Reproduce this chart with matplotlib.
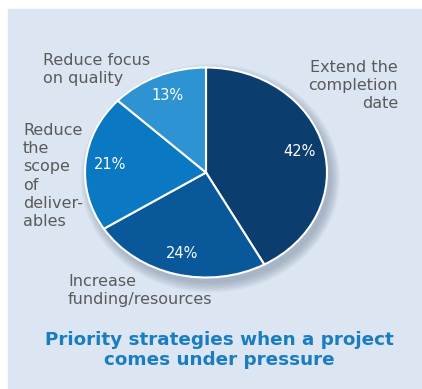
import matplotlib
matplotlib.use("Agg")
import matplotlib.pyplot as plt
import numpy as np
from matplotlib.patches import Ellipse, Rectangle

# Data
labels = ["Extend the\ncompletion\ndate", "Increase\nfunding/resources",
          "Reduce\nthe\nscope\nof\ndeliver-\nables", "Reduce focus\non quality"]
shares = [42, 24, 21, 13]
colors = ["#0b3d6e", "#08589a", "#0a78c3", "#2d93d3"]
title = "Priority strategies when a project\ncomes under pressure"

W, H = 422, 389
fig = plt.figure(figsize=(W / 100, H / 100), dpi=100)
fig.patch.set_facecolor("white")

# light blue panel
fig.patches.append(Rectangle((8 / W, 0), 1 - 8 / W, (H - 9) / H,
                             transform=fig.transFigure, color="#dce6f2", zorder=-5))

# pie axes (slightly wider than tall)
cx, cy, rx, ry = 206, 172.5, 121, 105
ax = fig.add_axes([(cx - rx) / W, (H - cy - ry) / H, 2 * rx / W, 2 * ry / H])
ax.set_facecolor("none")

# soft shadow
for i in range(8):
    ax.add_patch(Ellipse((0.035, -0.055), 2 + 0.02 * i, 2 + 0.025 * i,
                         color="#6f7f96", alpha=0.07, lw=0, zorder=0, clip_on=False))

wedges = ax.pie(shares, colors=colors, startangle=90, counterclock=False,
                wedgeprops=dict(edgecolor="white", linewidth=1.5))[0]
for w in wedges:
    w.set_zorder(2)

# percentage labels
ang = 90.0
for v in shares:
    mid = np.deg2rad(ang - v * 3.6 / 2)
    ax.text(0.8 * np.cos(mid), 0.8 * np.sin(mid), f"{v}%", color="white",
            fontsize=10.5, ha="center", va="center", zorder=3)
    ang -= v * 3.6

ax.set_aspect("auto")
ax.set_xlim(-1, 1)
ax.set_ylim(-1, 1)
ax.axis("off")

gray = "#5a5a5a"
fs = 11.5
lsp = 1.27
fig.text(398 / W, 1 - 60 / H, labels[0], ha="right", va="top", color=gray,
         fontsize=fs, linespacing=lsp)
fig.text(68 / W, 1 - 274 / H, labels[1], ha="left", va="top", color=gray,
         fontsize=fs, linespacing=lsp)
fig.text(23 / W, 1 - 123 / H, labels[2], ha="left", va="top", color=gray,
         fontsize=fs, linespacing=lsp)
fig.text(43 / W, 1 - 53 / H, labels[3], ha="left", va="top", color=gray,
         fontsize=fs, linespacing=lsp)

fig.text(219 / W, 1 - 350 / H, title, ha="center", va="center", color="#1b7dc1",
         fontsize=13.2, fontweight="bold", linespacing=1.08)

fig.savefig("out.png", dpi=100)
